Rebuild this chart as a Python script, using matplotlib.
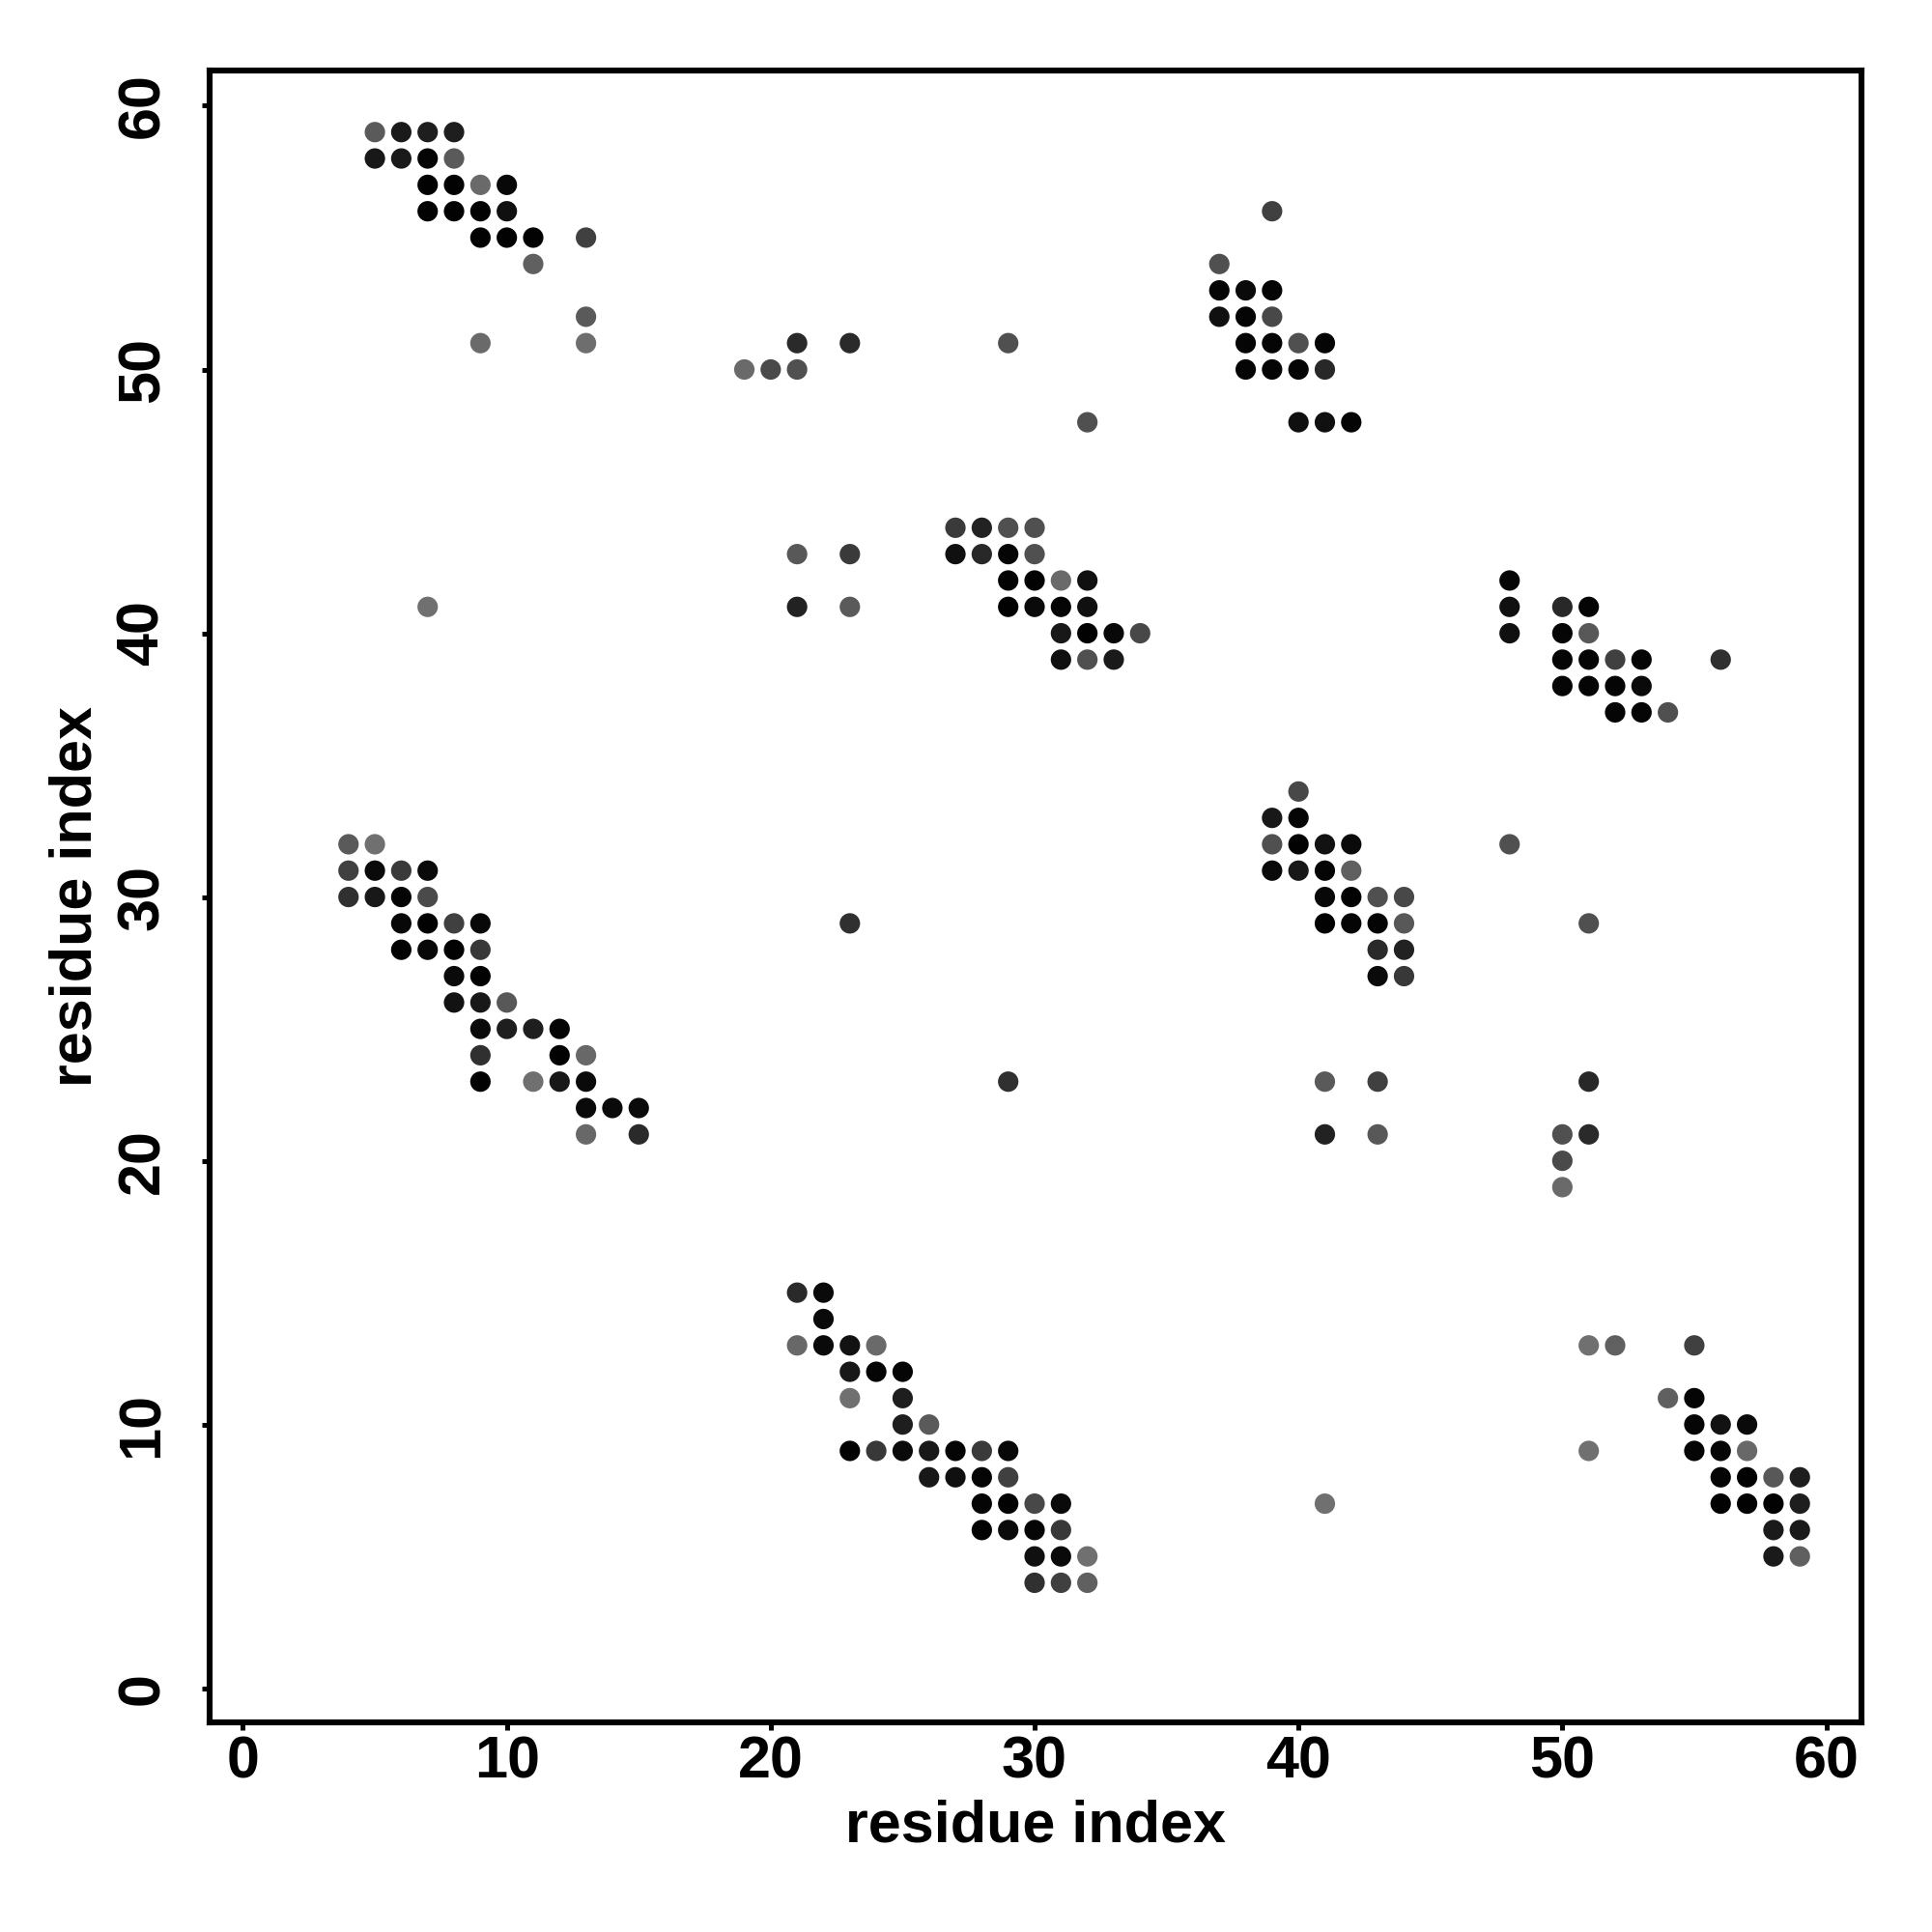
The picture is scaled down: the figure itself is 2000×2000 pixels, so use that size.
import matplotlib
matplotlib.use("Agg")
import matplotlib.pyplot as plt
import numpy as np

# contact map points: residue i (x), residue j (y), grey shade (0 = black, 255 = white)
res_x = [
    5, 6, 7, 8, 5, 6, 7, 8, 7, 8, 9, 10, 7, 8, 9, 10, 9, 10, 11, 13, 11, 13, 9, 13,
    21, 23, 29, 19, 20, 21, 32, 7,
    27, 28, 29, 30, 21, 23, 27, 28, 29, 30, 29, 30, 31, 32, 21, 23, 29, 30, 31, 32,
    31, 32, 33, 34, 31, 32, 33,
    39, 37, 37, 38, 39, 37, 38, 39, 38, 39, 40, 41, 38, 39, 40, 41, 40, 41, 42,
    48, 48, 48, 50, 51, 50, 51, 50, 51, 52, 53, 56, 50, 51, 52, 53, 52, 53, 54,
    4, 5, 4, 5, 6, 7, 4, 5, 6, 7, 6, 7, 8, 9, 6, 7, 8, 9, 8, 9, 8, 9, 10,
    9, 10, 11, 12, 9, 12, 13, 9, 11, 12, 13, 13, 14, 15, 13, 15,
    23, 29,
    40, 39, 40, 39, 40, 41, 42, 48, 39, 40, 41, 42, 41, 42, 43, 44, 41, 42, 43, 44, 51,
    43, 44, 43, 44, 41, 43, 51, 41, 43, 50, 51, 50, 50,
    21, 22, 22, 21, 22, 23, 24, 23, 24, 25, 23, 25, 25, 26,
    23, 24, 25, 26, 27, 28, 29, 26, 27, 28, 29, 28, 29, 30, 31, 28, 29, 30, 31,
    30, 31, 32, 30, 31, 32,
    51, 52, 55, 54, 55, 55, 56, 57, 51, 55, 56, 57, 56, 57, 58, 59, 56, 57, 58, 59,
    58, 59, 58, 59, 41,
]
res_y = [
    59, 59, 59, 59, 58, 58, 58, 58, 57, 57, 57, 57, 56, 56, 56, 56, 55, 55, 55, 55, 54, 52, 51, 51,
    51, 51, 51, 50, 50, 50, 48, 41,
    44, 44, 44, 44, 43, 43, 43, 43, 43, 43, 42, 42, 42, 42, 41, 41, 41, 41, 41, 41,
    40, 40, 40, 40, 39, 39, 39,
    56, 54, 53, 53, 53, 52, 52, 52, 51, 51, 51, 51, 50, 50, 50, 50, 48, 48, 48,
    42, 41, 40, 41, 41, 40, 40, 39, 39, 39, 39, 39, 38, 38, 38, 38, 37, 37, 37,
    32, 32, 31, 31, 31, 31, 30, 30, 30, 30, 29, 29, 29, 29, 28, 28, 28, 28, 27, 27, 26, 26, 26,
    25, 25, 25, 25, 24, 24, 24, 23, 23, 23, 23, 22, 22, 22, 21, 21,
    29, 23,
    34, 33, 33, 32, 32, 32, 32, 32, 31, 31, 31, 31, 30, 30, 30, 30, 29, 29, 29, 29, 29,
    28, 28, 27, 27, 23, 23, 23, 21, 21, 21, 21, 20, 19,
    15, 15, 14, 13, 13, 13, 13, 12, 12, 12, 11, 11, 10, 10,
    9, 9, 9, 9, 9, 9, 9, 8, 8, 8, 8, 7, 7, 7, 7, 6, 6, 6, 6,
    5, 5, 5, 4, 4, 4,
    13, 13, 13, 11, 11, 10, 10, 10, 9, 9, 9, 9, 8, 8, 8, 8, 7, 7, 7, 7,
    6, 6, 5, 5, 7,
]
shade = [
    0x5a, 0x1a, 0x1e, 0x1e, 0x18, 0x1a, 0x05, 0x5a, 0x02, 0x02, 0x6a, 0x08, 0x02, 0x02, 0x02, 0x10,
    0x02, 0x02, 0x02, 0x40, 0x60, 0x5a, 0x6a, 0x6e,
    0x2a, 0x2a, 0x50, 0x6a, 0x4a, 0x50, 0x50, 0x70,
    0x3a, 0x22, 0x50, 0x50, 0x58, 0x3a, 0x10, 0x28, 0x05, 0x50, 0x02, 0x02, 0x6a, 0x10,
    0x22, 0x5a, 0x02, 0x0a, 0x05, 0x10,
    0x18, 0x02, 0x08, 0x48, 0x10, 0x50, 0x1a,
    0x40, 0x50, 0x05, 0x0a, 0x05, 0x10, 0x05, 0x48, 0x05, 0x05, 0x50, 0x05, 0x05, 0x05, 0x05, 0x28,
    0x10, 0x10, 0x05,
    0x05, 0x10, 0x10, 0x28, 0x05, 0x05, 0x58, 0x05, 0x05, 0x40, 0x05, 0x30, 0x05, 0x05, 0x05, 0x0a,
    0x05, 0x05, 0x50,
    0x5a, 0x70, 0x40, 0x0a, 0x3a, 0x0a, 0x30, 0x18, 0x05, 0x4a, 0x08, 0x02, 0x40, 0x08,
    0x02, 0x08, 0x02, 0x38, 0x0a, 0x02, 0x12, 0x18, 0x58,
    0x0a, 0x1e, 0x1e, 0x05, 0x30, 0x02, 0x68, 0x02, 0x70, 0x18, 0x0a, 0x0a, 0x0a, 0x0a, 0x68, 0x2a,
    0x30, 0x30,
    0x48, 0x18, 0x05, 0x50, 0x02, 0x12, 0x0a, 0x50, 0x0a, 0x18, 0x05, 0x60,
    0x08, 0x02, 0x50, 0x48, 0x02, 0x05, 0x05, 0x58, 0x50,
    0x2a, 0x22, 0x0a, 0x38, 0x5a, 0x40, 0x28, 0x22, 0x58, 0x50, 0x2a, 0x4a, 0x6a,
    0x2a, 0x0a, 0x0a, 0x68, 0x0a, 0x12, 0x6a, 0x18, 0x05, 0x05, 0x70, 0x1e, 0x1e, 0x5a,
    0x02, 0x38, 0x0a, 0x18, 0x05, 0x3a, 0x08, 0x18, 0x10, 0x05, 0x40,
    0x05, 0x02, 0x48, 0x0a, 0x02, 0x0a, 0x05, 0x38,
    0x10, 0x0a, 0x70, 0x30, 0x40, 0x60,
    0x70, 0x60, 0x40, 0x60, 0x05, 0x05, 0x12, 0x0a, 0x70, 0x05, 0x05, 0x68,
    0x05, 0x02, 0x58, 0x1e, 0x02, 0x02, 0x02, 0x1e,
    0x1a, 0x1a, 0x1a, 0x60, 0x70,
]

ticks = [0, 10, 20, 30, 40, 50, 60]
axis_title = "residue index"

plt.rcParams['font.family'] = ['Liberation Sans', 'DejaVu Sans']

fig = plt.figure(figsize=(10, 10), dpi=200)
ax = fig.add_axes([0.1084, 0.1084, 0.9637 - 0.1084, 0.9637 - 0.1084])

n = min(len(res_x), len(res_y), len(shade))
cols = [(s / 255, s / 255, s / 255) for s in shade[:n]]
ax.scatter(res_x[:n], res_y[:n], s=58, c=cols, edgecolors='none', zorder=3)

ax.set_xlim(-1.27, 61.35)
ax.set_ylim(-1.3, 61.35)
ax.set_xticks(ticks)
ax.set_yticks(ticks)
ax.set_xticklabels([str(t) for t in ticks], fontsize=22, fontweight='bold')
ax.set_yticklabels([str(t) for t in ticks], fontsize=22, fontweight='bold',
                   rotation=90, va='center')
ax.tick_params(axis='both', direction='out', length=2.8, width=1.8, color='black')
ax.tick_params(axis='x', pad=2.0)
ax.tick_params(axis='y', pad=11.5)
for sp in ax.spines.values():
    sp.set_linewidth(2.2)
    sp.set_color('black')

ax.set_xlabel(axis_title, fontsize=22, fontweight='bold', va='center')
ax.set_ylabel(axis_title, fontsize=22, fontweight='bold', va='center', ha='center')
ax.xaxis.set_label_coords(0.5, -0.063)
ax.yaxis.set_label_coords(-0.0806, 0.5)

fig.savefig("out.png", dpi=200, facecolor='white')
